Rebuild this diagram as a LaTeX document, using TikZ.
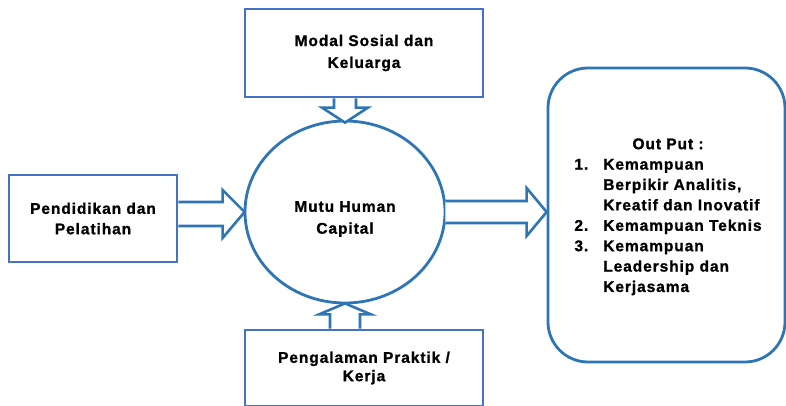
\documentclass[tikz,border=0pt]{standalone}
\usepackage{fontspec}
\setmainfont{Liberation Sans}[LetterSpace=6, BoldFeatures={FakeBold=1.2}]
\usetikzlibrary{calc,shapes.geometric}
\definecolor{boxblue}{RGB}{68,114,196}
\definecolor{lineblue}{RGB}{46,117,182}
\begin{document}
\begin{tikzpicture}[x=1pt,y=-1pt,
  lbl/.style={font=\fontsize{15.5}{20.4}\selectfont\bfseries, align=center, text=black},
  rbox/.style={draw=boxblue, line width=2.8pt, lbl},
  blk/.style={draw=lineblue, line width=2.6pt, line join=miter, fill=white}]
\useasboundingbox (0,0) rectangle (786,406);

\node[rbox, minimum width=238pt, minimum height=88pt] (topbox) at (364,53) {Modal Sosial dan\\[1.5pt]Keluarga};
\node[rbox, minimum width=168pt, minimum height=87pt] (leftbox) at (93,218.5) {Pendidikan dan\\Pelatihan};
\node[rbox, minimum width=238pt, minimum height=76pt] (botbox) at (364,368) {Pengalaman Praktik /\\[-2pt]Kerja};
\node[draw=lineblue, line width=2.8pt, ellipse, minimum width=200pt, minimum height=182pt, inner sep=0pt] (circ) at (345,212) {};
\node[lbl] (circtxt) at (345,219) {Mutu Human\\[1.5pt]Capital};
\node[draw=lineblue, line width=2.8pt, rounded corners=40pt, minimum width=237pt, minimum height=294pt] (outbox) at (666.5,215) {};
\node[lbl, inner sep=0pt] (outtxt) at (668,216.5) {%
\begin{tabular}{@{}l@{\hspace{15pt}}l@{}}
\multicolumn{2}{c}{Out Put :}\\
1. & Kemampuan\\
   & Berpikir Analitis,\\
   & Kreatif dan Inovatif\\
2. & Kemampuan Teknis\\
3. & Kemampuan\\
   & Leadership dan\\
   & Kerjasama
\end{tabular}};

% top arrow (down)
\coordinate (ta) at (circ.north |- topbox.south);
\coordinate (tt) at ($(circ.north)+(0,3)$);
\draw[blk] ($(ta)+(-11,0)$) -- ($(tt)+(-11,-15)$) -- ($(tt)+(-23,-15)$) -- (tt)
  -- ($(tt)+(23,-15)$) -- ($(tt)+(11,-15)$) -- ($(ta)+(11,0)$);
% bottom arrow (up)
\coordinate (ba) at (circ.south |- botbox.north);
\coordinate (bt) at ($(circ.south)+(0,-1)$);
\draw[blk] ($(ba)+(-15,0)$) -- ($(bt)+(-15,11)$) -- ($(bt)+(-26,11)$) -- (bt)
  -- ($(bt)+(26,11)$) -- ($(bt)+(15,11)$) -- ($(ba)+(15,0)$);
% left arrow (right)
\coordinate (la) at (leftbox.east |- circ.west);
\coordinate (lt) at ($(circ.west)+(1,0)$);
\draw[blk] ($(la)+(0,-10)$) -- ($(lt)+(-22,-10)$) -- ($(lt)+(-22,-22)$) -- (lt)
  -- ($(lt)+(-22,26)$) -- ($(lt)+(-22,14)$) -- ($(la)+(0,14)$);
% right arrow (right)
\coordinate (ra) at (outbox.west |- circ.east);
\draw[blk] ($(circ.east)+(-1,-11)$) -- ($(ra)+(-20,-11)$) -- ($(ra)+(-20,-24)$) -- (ra)
  -- ($(ra)+(-20,24)$) -- ($(ra)+(-20,11)$) -- ($(circ.east)+(-1,11)$);
\end{tikzpicture}
\end{document}
